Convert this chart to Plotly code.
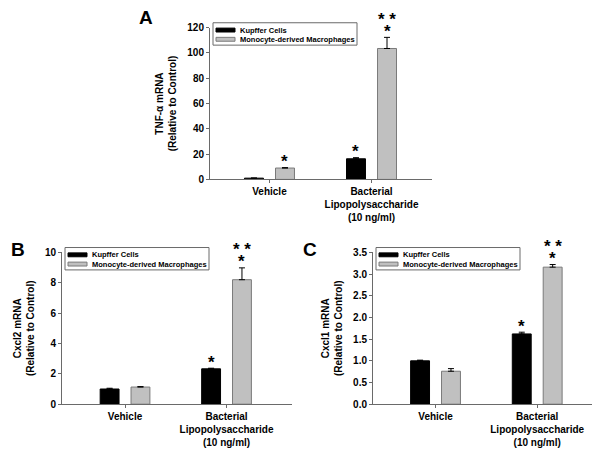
import plotly.graph_objects as go

# page body adds an 8px margin, so the figure is 8px smaller than the window
PAGE_MARGIN = 8
W, H = 600 - PAGE_MARGIN, 453 - PAGE_MARGIN

# ---------------- data ----------------
categories = ["Vehicle", "Bacterial<br>Lipopolysaccharide<br>(10 ng/ml)"]
series_names = ["Kupffer Cells", "Monocyte-derived Macrophages"]

panel_letters = ["A", "B", "C"]
y_titles = ["TNF-α mRNA", "Cxcl2 mRNA", "Cxcl1 mRNA"]
y_subtitle = "(Relative to Control)"

tnf_kc = [1.0, 16.3]
tnf_kc_err = [0.1, 0.9]
tnf_mdm = [9.0, 103.5]
tnf_mdm_err = [0.3, 8.8]
tnf_kc_sig = ["", "*"]
tnf_mdm_sig = ["*", "*"]
tnf_mdm_sig2 = ["", "* *"]

cxcl2_kc = [1.0, 2.33]
cxcl2_kc_err = [0.05, 0.04]
cxcl2_mdm = [1.13, 8.2]
cxcl2_mdm_err = [0.03, 0.78]
cxcl2_kc_sig = ["", "*"]
cxcl2_mdm_sig = ["", "*"]
cxcl2_mdm_sig2 = ["", "* *"]

cxcl1_kc = [1.0, 1.62]
cxcl1_kc_err = [0.015, 0.04]
cxcl1_mdm = [0.76, 3.16]
cxcl1_mdm_err = [0.06, 0.06]
cxcl1_kc_sig = ["", "*"]
cxcl1_mdm_sig = ["", "*"]
cxcl1_mdm_sig2 = ["", "* *"]

tnf_ticks = [0, 20, 40, 60, 80, 100, 120]
cxcl2_ticks = [0, 2, 4, 6, 8, 10]
cxcl1_ticks = [0.0, 0.5, 1.0, 1.5, 2.0, 2.5, 3.0, 3.5]

# ---------------- layout geometry (window pixels) ----------------
panels = [
    dict(px=(210, 432), py=(22, 178), xr=(-0.583, 1.593),
         kc=tnf_kc, kce=tnf_kc_err, mdm=tnf_mdm, mdme=tnf_mdm_err,
         kcs=tnf_kc_sig, mdms=tnf_mdm_sig, mdms2=tnf_mdm_sig2,
         ticks=tnf_ticks, fmt="d", letter_xy=(137, 12)),
    dict(px=(62, 292), py=(253, 409), xr=(-0.621, 1.645),
         kc=cxcl2_kc, kce=cxcl2_kc_err, mdm=cxcl2_mdm, mdme=cxcl2_mdm_err,
         kcs=cxcl2_kc_sig, mdms=cxcl2_mdm_sig, mdms2=cxcl2_mdm_sig2,
         ticks=cxcl2_ticks, fmt="d", letter_xy=(8.5, 250)),
    dict(px=(373, 598), py=(253, 409), xr=(-0.615, 1.598),
         kc=cxcl1_kc, kce=cxcl1_kc_err, mdm=cxcl1_mdm, mdme=cxcl1_mdm_err,
         kcs=cxcl1_kc_sig, mdms=cxcl1_mdm_sig, mdms2=cxcl1_mdm_sig2,
         ticks=cxcl1_ticks, fmt=".1f", letter_xy=(301, 250)),
]

BAR_W = 0.186
HALF_GAP = 0.059
OFFS = [-HALF_GAP - BAR_W, HALF_GAP]
FILLS = ["#000000", "#c0c0c0"]
LINES = ["#000000", "#7a7a7a"]
AXIS_COLOR = "#6a6a6a"
FONT = "Liberation Sans"
STAR_SIZE = 17


def fx(p):
    return (p - PAGE_MARGIN) / W


def fy(p):
    return 1 - (p - PAGE_MARGIN) / H


fig = go.Figure()
annotations = []
shapes = []

for k, pn in enumerate(panels):
    sfx = "" if k == 0 else str(k + 1)
    xref, yref = "x" + sfx, "y" + sfx
    vals = [pn["kc"], pn["mdm"]]
    errs = [pn["kce"], pn["mdme"]]
    sigs = [pn["kcs"], pn["mdms"]]
    for s in range(2):
        fig.add_trace(go.Bar(
            x=categories, y=vals[s], name=series_names[s],
            xaxis=xref, yaxis=yref, showlegend=False,
            width=BAR_W, offset=OFFS[s],
            marker=dict(color=FILLS[s], line=dict(color=LINES[s], width=1)),
            error_y=dict(type="data", array=errs[s], arrayminus=[0] * len(errs[s]),
                         symmetric=False, color="#000000", thickness=1, width=3),
        ))
        for i in range(len(categories)):
            xc = i + OFFS[s] + BAR_W / 2
            top = vals[s][i] + errs[s][i]
            if sigs[s][i]:
                annotations.append(dict(
                    x=xc, y=top, xref=xref, yref=yref, text=sigs[s][i],
                    showarrow=False, yanchor="middle", yshift=6,
                    font=dict(family=FONT, size=STAR_SIZE, color="#000000", weight="bold")))
            if s == 1 and pn["mdms2"][i]:
                annotations.append(dict(
                    x=xc, y=top, xref=xref, yref=yref, text=pn["mdms2"][i],
                    showarrow=False, yanchor="middle", yshift=18,
                    font=dict(family=FONT, size=STAR_SIZE, color="#000000", weight="bold")))

    x0, x1 = pn["px"]
    y0, y1 = pn["py"]
    fig.update_layout(**{
        "xaxis" + sfx: dict(
            domain=[fx(x0), fx(x1)], anchor=yref, type="category",
            range=list(pn["xr"]), showline=True, linecolor=AXIS_COLOR, linewidth=1,
            ticks="outside", ticklen=3, tickcolor=AXIS_COLOR, showgrid=False,
            zeroline=False,
            tickfont=dict(family=FONT, size=10, color="#000000", weight="bold")),
        "yaxis" + sfx: dict(
            domain=[fy(y1), fy(y0)], anchor=xref,
            range=[pn["ticks"][0], pn["ticks"][-1]],
            tickvals=pn["ticks"], tickformat=pn["fmt"],
            showline=True, linecolor=AXIS_COLOR, linewidth=1,
            ticks="outside", ticklen=3, tickcolor=AXIS_COLOR, showgrid=False,
            zeroline=False,
            tickfont=dict(family=FONT, size=10, color="#000000", weight="bold"),
            title=dict(text=y_titles[k] + "<br>" + y_subtitle, standoff=8,
                       font=dict(family=FONT, size=10, color="#000000", weight="bold"))),
    })

    # legend box (drawn)
    bx0, by0 = x0 + 3, y0 - 5
    bx1, by1 = bx0 + 144, by0 + 23
    shapes.append(dict(type="rect", xref="paper", yref="paper",
                       x0=fx(bx0), x1=fx(bx1), y0=fy(by1), y1=fy(by0),
                       line=dict(color="#6a6a6a", width=1), fillcolor="white"))
    for s in range(2):
        cy = by0 + 7.5 + s * 9.5
        shapes.append(dict(type="rect", xref="paper", yref="paper",
                           x0=fx(bx0 + 3), x1=fx(bx0 + 22), y0=fy(cy + 2), y1=fy(cy - 2),
                           line=dict(color=LINES[s], width=1), fillcolor=FILLS[s]))
        annotations.append(dict(
            x=fx(bx0 + 25), y=fy(cy), xref="paper", yref="paper",
            text=series_names[s], showarrow=False, xanchor="left", yanchor="middle",
            font=dict(family=FONT, size=7.5, color="#000000", weight="bold")))

    lx, ly = pn["letter_xy"]
    annotations.append(dict(
        x=fx(lx), y=fy(ly), xref="paper", yref="paper", text=panel_letters[k],
        showarrow=False, xanchor="left", yanchor="middle",
        font=dict(family=FONT, size=19, color="#000000", weight="bold")))

fig.update_layout(
    width=W, height=H,
    margin=dict(l=0, r=0, t=0, b=0),
    paper_bgcolor="white", plot_bgcolor="white",
    barmode="overlay", showlegend=False,
    annotations=annotations, shapes=shapes,
)

fig.write_html("out.html")
